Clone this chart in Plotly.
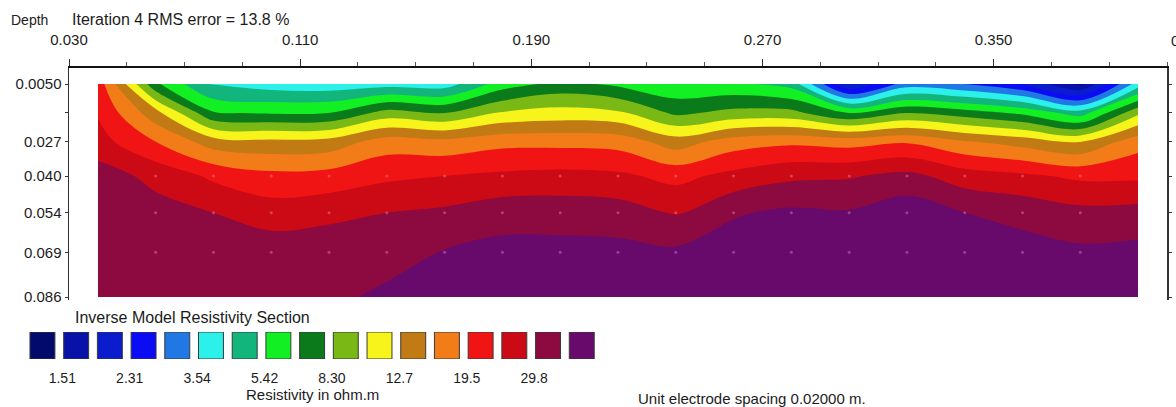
import numpy as np
import plotly.graph_objects as go

W, H = 1176, 407

# ---------------- data ----------------
# model column positions along the line (m) and model row depths (m)
x_pos = [0.04, 0.06, 0.08, 0.10, 0.12, 0.14, 0.16, 0.18, 0.20, 0.22,
         0.24, 0.26, 0.28, 0.30, 0.32, 0.34, 0.36, 0.38, 0.40]
depths = [0.005, 0.016, 0.027, 0.040, 0.054, 0.069, 0.086]

# resistivity (ohm.m), one list per depth row
res_d0005 = [22.1, 7.00, 4.20, 3.94, 3.85, 4.02, 3.94, 6.03, 7.15, 6.43,
             5.66, 5.66, 4.98, 1.83, 3.18, 2.86, 2.31, 1.45, 3.94]
res_d0016 = [23.6, 13.8, 6.85, 6.57, 6.71, 9.04, 8.30, 10.5, 11.2, 10.7,
             7.95, 8.85, 8.85, 6.71, 8.30, 7.46, 6.43, 4.87, 9.84]
res_d0027 = [26.2, 19.5, 14.1, 13.5, 13.8, 17.5, 16.8, 18.3, 18.3, 17.9,
             14.1, 17.5, 18.65, 17.9, 19.05, 16.1, 14.4, 12.7, 17.9]
res_d0040 = [33.1, 28.0, 23.1, 20.7, 21.2, 23.1, 24.1, 25.1, 25.7, 25.1,
             22.6, 25.7, 28.6, 29.2, 31.8, 26.8, 25.1, 23.1, 23.1]
res_d0054 = [35.3, 32.4, 29.8, 26.8, 28.0, 29.8, 31.1, 33.9, 33.9, 33.1,
             29.2, 36.1, 38.5, 37.7, 41.9, 36.9, 34.6, 31.8, 32.4]
res_d0069 = [36.1, 34.6, 33.9, 33.9, 34.6, 33.9, 37.3, 39.3, 39.3, 39.3,
             38.5, 41.0, 42.8, 41.9, 43.7, 41.9, 40.1, 38.5, 39.3]
res_d0086 = [36.1, 35.3, 35.3, 36.1, 35.3, 38.5, 41.9, 43.7, 43.7, 43.7,
             43.7, 44.7, 45.6, 45.6, 45.6, 45.6, 44.7, 43.7, 43.7]
resistivity = [res_d0005, res_d0016, res_d0027, res_d0040,
               res_d0054, res_d0069, res_d0086]

# colour legend
level_labels = ["1.51", "2.31", "3.54", "5.42", "8.30", "12.7", "19.5", "29.8"]
band_colors = ["#020a6c", "#0812a8", "#0a1ccc", "#0c0cf4", "#2078e4",
               "#2cf0ea", "#12b67c", "#12f024", "#0a7a1a", "#7ab816",
               "#f6f41a", "#c27a14", "#f27c18", "#f01414", "#cc0a16",
               "#8c0a40", "#680a6c"]

# axis ticks
depth_tick_vals = [0.005, 0.016, 0.027, 0.040, 0.054, 0.069, 0.086]
depth_tick_text = ["0.0050", "", "0.027", "0.040", "0.054", "0.069", "0.086"]

# ---------------- derived ----------------
n_bands = len(band_colors)
lv_first = float(level_labels[0])
lv_last = float(level_labels[-1])
log_step = (np.log10(lv_last) - np.log10(lv_first)) / (2 * (len(level_labels) - 1))
log_start = np.log10(lv_first)

colorscale = []
for i, c in enumerate(band_colors):
    lo = max(0.0, (i - 0.5) / (n_bands - 1))
    hi = min(1.0, (i + 0.5) / (n_bands - 1))
    colorscale += [[lo, c], [hi, c]]


def fx(px):
    return px / W


def fy(py):
    return 1 - py / H


# depth axis: 0.005 m at y=84px, 0.086 m at y=297px ; plot area 68..300 px
px_per_m = (297 - 84) / (depths[-1] - depths[0])
d_top = depths[0] - (84 - 68) / px_per_m
d_bot = depths[-1] + (300 - 297) / px_per_m

FONT = "Liberation Sans, Arial, sans-serif"
TXT = "#1c1c1c"

fig = go.Figure()

fig.add_trace(go.Contour(
    x=x_pos, y=depths, z=np.log10(np.array(resistivity)),
    contours=dict(start=log_start, end=log_start + 15.5 * log_step,
                  size=log_step, coloring="fill", showlines=False),
    colorscale=colorscale, showscale=False, line=dict(width=0),
    hoverinfo="skip"))

# faint model-point markers
dot_x = [x for d in depths[3:6] for x in x_pos[1:-1]]
dot_y = [d for d in depths[3:6] for x in x_pos[1:-1]]
fig.add_trace(go.Scatter(x=dot_x, y=dot_y, mode="markers",
                         marker=dict(size=3, color="rgba(255,200,225,0.3)"),
                         hoverinfo="skip"))

# colour legend boxes
fig.add_trace(go.Bar(x=list(range(n_bands)), y=[1] * n_bands,
                     marker=dict(color=band_colors,
                                 line=dict(color="#3a3a3a", width=1)),
                     width=0.74, xaxis="x2", yaxis="y2", hoverinfo="skip"))

fig.update_layout(
    template="none",
    width=W, height=H, margin=dict(l=0, r=0, t=0, b=0, autoexpand=False),
    paper_bgcolor="white", plot_bgcolor="white", showlegend=False,
    font=dict(family=FONT, size=15, color=TXT),
    xaxis=dict(domain=[fx(69), fx(1167)], range=[0.030, 0.410], side="top",
               automargin=False, layer="above traces",
               showline=True, linecolor="#111111", linewidth=2,
               tickmode="linear", tick0=0.030, dtick=0.08, tickformat=".3f",
               ticks="outside", ticklen=7, tickwidth=1, tickcolor="#333",
               minor=dict(ticks="outside", ticklen=4, dtick=0.02, tick0=0.030,
                          tickcolor="#555", showgrid=False),
               ticklabelstandoff=8, showgrid=False, zeroline=False,
               tickfont=dict(size=15)),
    yaxis=dict(domain=[fy(300), fy(68)], range=[d_bot, d_top],
               automargin=False, layer="above traces",
               showline=True, linecolor="#333333", linewidth=1.5, mirror="ticks",
               tickvals=depth_tick_vals, ticktext=depth_tick_text,
               ticks="outside", ticklen=3, tickcolor="#333",
               showgrid=False, zeroline=False, tickfont=dict(size=15)),
    xaxis2=dict(domain=[fx(25.6), fx(598.6)], range=[-0.5, n_bands - 0.5],
                anchor="y2", automargin=False,
                tickvals=[2 * i + 0.5 for i in range(len(level_labels))],
                ticktext=level_labels, ticks="", showline=False,
                showgrid=False, zeroline=False, ticklabelstandoff=9,
                ticklabelshift=3, tickfont=dict(size=14)),
    yaxis2=dict(domain=[fy(359), fy(332)], range=[0, 1], anchor="x2",
                automargin=False, visible=False),
)

ann = [
    ("Depth", 9, 20, "left", 14),
    ("Iteration 4 RMS error = 13.8 %", 70, 20, "left", 16),
    ("0.410", 1169, 40, "left", 15),
    ("Inverse Model Resistivity Section", 73, 317, "left", 16),
    ("Resistivity in ohm.m", 312, 394, "center", 15),
    ("Unit electrode spacing 0.02000 m.", 636, 398, "left", 15),
]
for text, x, y, xa, size in ann:
    fig.add_annotation(text=text, x=fx(x), y=fy(y), xref="paper", yref="paper",
                       xanchor=xa, yanchor="middle", showarrow=False,
                       font=dict(size=size, family=FONT, color=TXT))

fig.write_html("out.html",
               config={"displayModeBar": False, "staticPlot": True},
               post_script="document.body.style.margin='0';"
                           "document.body.style.overflow='hidden';")
